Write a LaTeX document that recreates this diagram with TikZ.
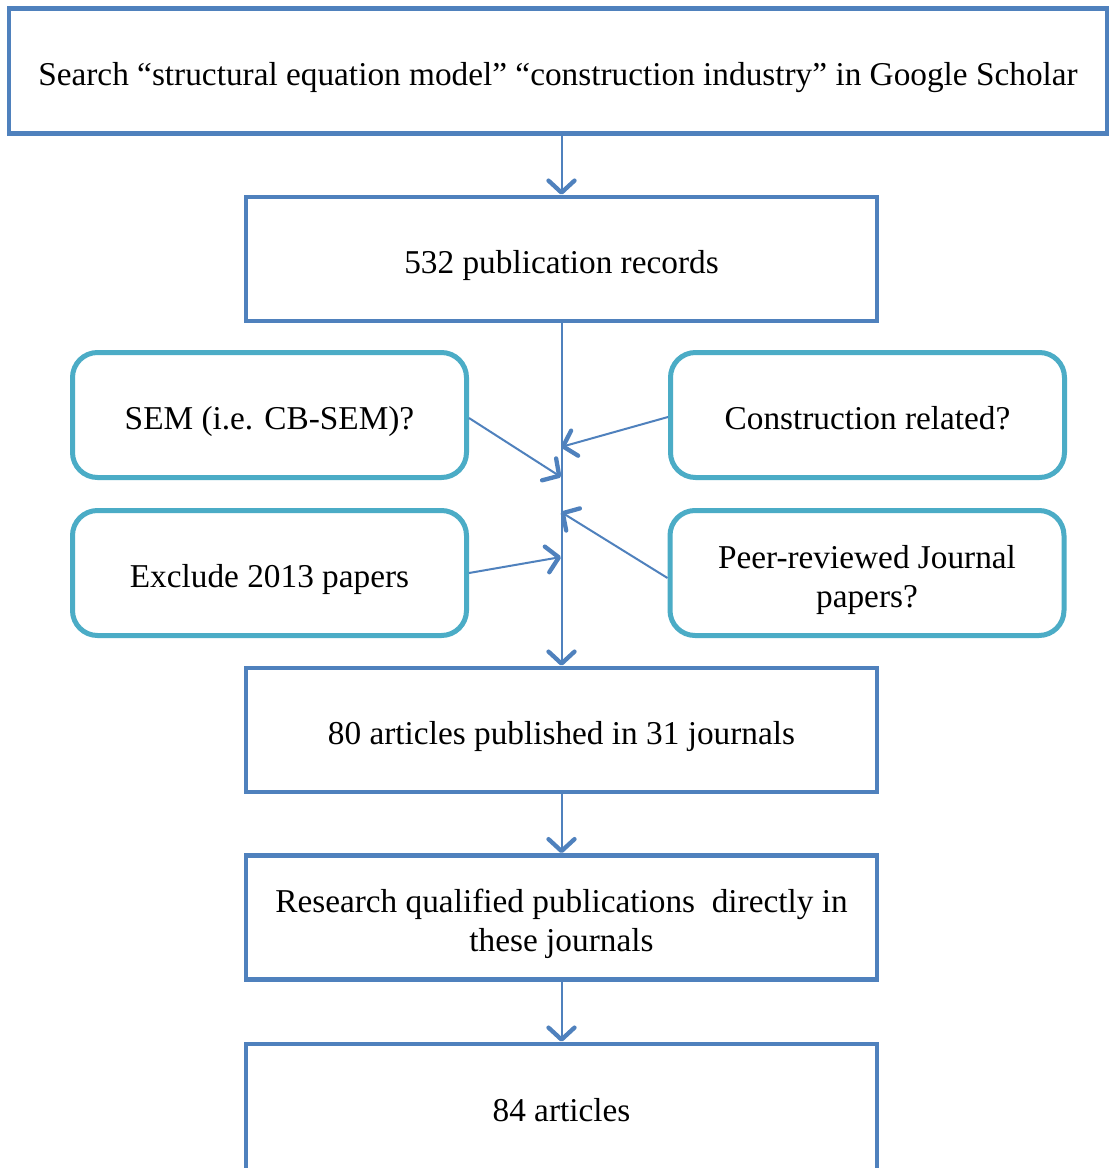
\documentclass[tikz,border=0pt]{standalone}
\usepackage{fontspec}
\setmainfont{Liberation Serif}
\usetikzlibrary{arrows.meta}
\definecolor{boxblue}{HTML}{4F81BD}
\definecolor{qcyan}{HTML}{4BACC6}
\begin{document}
\begin{tikzpicture}[x=1pt,y=-1pt,
  mainbox/.style={draw=boxblue, line width=4.5pt, minimum width=631pt, minimum height=124pt,
    align=center, font=\fontsize{33.3}{39}\selectfont, inner sep=0pt},
  qbox/.style={draw=qcyan, line width=5pt, rounded corners=25pt, minimum width=394pt,
    minimum height=125pt, align=center, font=\fontsize{33.3}{39}\selectfont, inner sep=0pt},
  oneline/.style={text height=30pt, text depth=2pt},
  twoline/.style={text height=70pt, text depth=2pt},
  flow/.style={draw=boxblue, line width=2pt,
    -{Straight Barb[length=12pt,width=26pt,line width=4.3pt,round]}},
]
\clip (0,0) rectangle (1109,1168);
\fill[white] (0,0) rectangle (1109,1168);

\node[mainbox, oneline, minimum width=1098pt, minimum height=125pt] (top) at (558,71)
  {Search “structural equation model” “construction industry” in Google Scholar};
\node[mainbox, oneline] (b2) at (561.5,259) {532 publication records};
\node[qbox, oneline] (sem) at (269.5,415) {SEM (i.e. CB-SEM)?};
\node[qbox, oneline] (con) at (867.5,415) {Construction related?};
\node[qbox, oneline] (exc) at (269.5,573) {Exclude 2013 papers};
\node[qbox, twoline] (peer) at (867,573) {Peer-reviewed Journal\\papers?};
\node[mainbox, oneline] (b3) at (561.5,730) {80 articles published in 31 journals};
\node[mainbox, twoline] (b4) at (561.5,917.5) {Research qualified publications\ \ directly in\\these journals};
\node[mainbox, text height=25pt, text depth=3pt, minimum height=132pt] (b5) at (561.5,1110) {84 articles};

\coordinate (jc) at (561,447);
\coordinate (js) at (561,477);
\coordinate (jp) at (561,512);
\coordinate (je) at (561,557);

\draw[flow] (b2.north |- top.south) -- (b2.north);
\draw[flow] (b2.south) -- (b3.north);
\draw[flow] ([yshift=-3pt]sem.east) -- (js);
\draw[flow] ([yshift=-2pt]con.west) -- (jc);
\draw[flow] (exc.east) -- (je);
\draw[flow] ([yshift=-5pt]peer.west) -- (jp);
\draw[flow] (b3.south) -- (b4.north);
\draw[flow] (b4.south) -- (b5.north);
\end{tikzpicture}
\end{document}
